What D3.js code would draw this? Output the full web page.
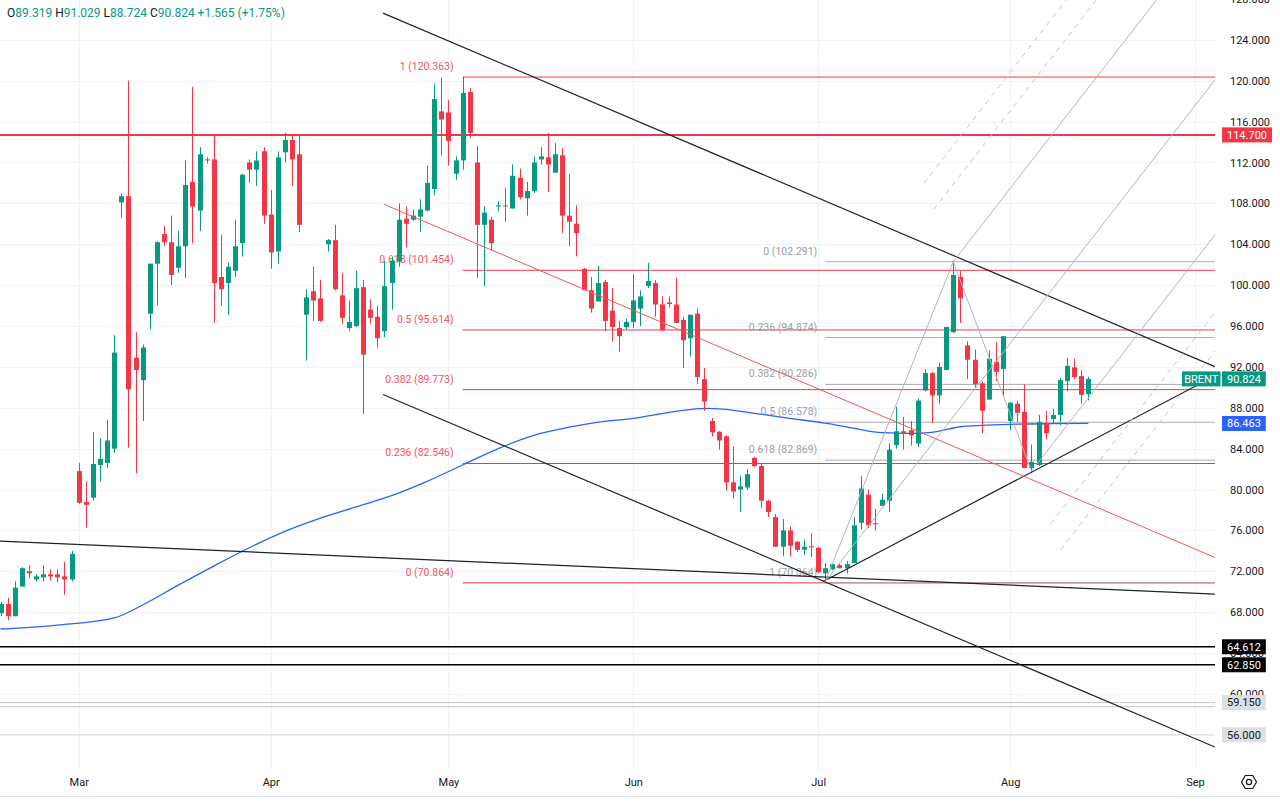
<!DOCTYPE html>
<html>
<head>
<meta charset="utf-8">
<script src="https://cdn.jsdelivr.net/npm/d3@7"></script>
<style>
  body { margin: 0; background: #fff; overflow: hidden; }
  svg text { font-family: Roboto, "Noto Sans", sans-serif; }
</style>
</head>
<body>
<svg id="chart" width="1280" height="803"></svg>
<script>
// daily candles (one entry per session)
const opens = [
  67.9, 68.8, 67.6, 70.5, 72.0, 71.2, 71.4, 71.7, 71.7, 71.5,
  71.2, 81.8, 78.8, 79.2, 82.4, 82.6, 84.0, 108.1, 108.7, 92.9,
  90.7, 97.2, 102.1, 105.0, 104.2, 101.7, 103.8, 110.1, 107.3, 112.3,
  112.3, 100.8, 100.2, 101.4, 104.1, 112.0, 111.3, 113.1, 106.9, 103.3,
  113.0, 114.2, 112.8, 97.1, 99.4, 98.7, 104.0, 104.4, 99.0, 95.8,
  96.0, 99.8, 97.6, 96.9, 95.5, 100.2, 102.3, 106.5, 106.4, 106.7,
  107.3, 109.4, 117.0, 116.9, 110.9, 112.2, 118.9, 112.0, 105.9, 106.4,
  107.7, 107.8, 107.5, 110.5, 108.5, 109.2, 112.3, 112.5, 111.0, 112.7,
  106.8, 106.0, 101.6, 99.5, 98.4, 100.3, 97.5, 95.8, 95.9, 96.4,
  97.7, 99.9, 100.2, 98.1, 98.3, 98.1, 96.6, 94.8, 97.2, 90.8,
  86.7, 85.65, 85.2, 80.7, 80.0, 80.2, 83.1, 82.3, 78.9, 77.3,
  74.4, 76.0, 74.9, 74.1, 74.45, 74.3, 71.8, 72.2, 72.6, 72.3,
  72.8, 76.75, 79.5, 76.7, 78.4, 78.9, 84.35, 85.7, 85.8, 84.5,
  89.7, 91.4, 89.2, 91.7, 95.4, 100.8, 94.1, 92.7, 90.4, 88.8,
  92.5, 91.8, 86.7, 88.4, 87.6, 82.1, 82.4, 86.5, 86.9, 87.3,
  90.6, 91.95, 91.1, 89.319
]
const highs = [
  69.0, 69.4, 71.0, 72.4, 72.6, 71.7, 72.6, 72.2, 72.2, 72.9,
  74.0, 82.6, 80.8, 85.6, 85.0, 86.8, 95.1, 109.0, 120.0, 95.4,
  94.2, 102.1, 104.3, 105.8, 106.8, 105.3, 112.2, 119.4, 113.5, 112.5,
  114.6, 104.9, 102.2, 106.4, 110.9, 112.3, 113.1, 113.5, 109.3, 113.1,
  114.9, 114.6, 114.6, 99.6, 101.8, 100.5, 104.5, 105.9, 101.2, 98.5,
  101.4, 100.5, 98.6, 98.0, 102.4, 102.8, 108.0, 107.7, 107.4, 108.4,
  111.7, 119.7, 120.3, 118.1, 112.6, 120.363, 119.3, 113.6, 107.7, 106.7,
  108.2, 109.5, 111.8, 111.4, 110.1, 112.6, 113.5, 114.9, 113.9, 113.4,
  110.9, 107.8, 101.7, 100.8, 101.9, 100.5, 99.7, 96.5, 96.7, 101.1,
  99.5, 102.2, 100.5, 98.9, 98.9, 100.7, 96.9, 97.1, 97.7, 91.9,
  87.0, 85.7, 85.3, 84.2, 81.3, 82.0, 83.2, 82.6, 79.0, 77.6,
  77.1, 76.4, 74.9, 75.1, 75.7, 74.4, 72.8, 72.8, 72.7, 73.0,
  77.3, 81.3, 80.0, 78.1, 79.6, 84.5, 88.1, 87.1, 86.7, 88.9,
  91.8, 91.5, 92.4, 95.9, 102.291, 101.4, 94.5, 93.7, 90.6, 93.6,
  94.4, 95.0, 88.5, 88.7, 90.3, 84.4, 87.3, 87.7, 87.9, 90.9,
  92.9, 92.8, 91.7, 91.029
]
const lows = [
  67.6, 67.2, 67.6, 70.5, 71.3, 71.0, 71.0, 71.1, 70.9, 69.7,
  71.0, 78.6, 76.3, 78.9, 80.8, 82.1, 83.6, 106.6, 84.1, 81.6,
  86.7, 95.7, 98.0, 103.8, 100.0, 101.2, 100.7, 104.1, 105.3, 111.9,
  96.3, 98.0, 97.1, 100.8, 102.8, 110.0, 109.7, 106.0, 101.6, 102.1,
  112.0, 109.7, 105.2, 92.6, 96.5, 96.4, 103.3, 99.5, 96.2, 95.5,
  95.9, 87.4, 96.2, 93.9, 94.9, 97.6, 101.8, 103.7, 106.3, 105.2,
  107.2, 108.8, 112.7, 111.7, 110.3, 111.3, 114.4, 100.7, 99.9, 103.4,
  107.2, 106.2, 107.5, 108.4, 106.8, 109.0, 111.8, 109.1, 111.0, 105.1,
  103.8, 102.8, 99.5, 97.3, 98.4, 95.5, 94.5, 93.5, 95.7, 95.8,
  96.0, 99.7, 96.9, 95.5, 97.8, 96.3, 91.9, 93.0, 90.3, 87.7,
  85.2, 83.9, 79.9, 79.1, 77.8, 79.95, 82.2, 78.2, 77.3, 74.4,
  73.5, 73.5, 73.9, 73.6, 73.4, 71.8, 70.864, 72.1, 72.3, 71.8,
  72.8, 76.1, 76.2, 76.0, 78.4, 77.8, 84.0, 83.9, 84.3, 84.2,
  89.6, 86.5, 88.4, 91.7, 95.3, 96.3, 90.8, 90.0, 85.5, 88.8,
  90.6, 89.1, 85.8, 86.6, 82.1, 81.6, 82.3, 84.9, 86.5, 86.3,
  89.6, 90.8, 88.4, 88.724
]
const closes = [
  68.8, 67.6, 70.4, 72.3, 71.8, 71.5, 71.7, 71.5, 71.4, 71.2,
  73.7, 78.7, 78.5, 82.5, 83.0, 84.8, 93.4, 108.7, 89.8, 91.7,
  93.9, 102.1, 104.2, 104.2, 101.0, 103.8, 109.8, 107.7, 112.8, 112.2,
  100.2, 99.6, 101.8, 103.8, 110.8, 111.3, 112.2, 106.8, 103.2, 112.5,
  114.2, 112.3, 105.9, 98.8, 98.5, 96.5, 104.4, 99.6, 96.8, 96.4,
  99.7, 93.2, 96.8, 94.8, 99.9, 102.4, 106.4, 106.0, 106.8, 107.4,
  110.0, 118.2, 116.2, 114.1, 112.2, 118.8, 114.9, 105.9, 107.1, 104.1,
  107.8, 107.7, 110.7, 108.6, 109.2, 112.0, 112.6, 111.8, 112.8, 106.8,
  106.2, 105.1, 99.5, 97.7, 100.2, 96.5, 95.9, 95.0, 96.4, 98.5,
  98.9, 100.4, 98.1, 95.6, 98.15, 96.3, 94.6, 97.1, 91.0, 88.6,
  85.6, 84.8, 80.7, 79.8, 80.3, 81.5, 82.3, 78.9, 77.8, 74.4,
  76.0, 74.5, 74.1, 74.4, 74.4, 71.9, 72.3, 72.7, 72.3, 72.7,
  76.5, 80.1, 76.5, 76.6, 79.0, 83.9, 85.7, 85.5, 85.3, 88.7,
  91.4, 89.2, 92.0, 95.9, 101.0, 98.7, 92.7, 90.3, 87.7, 92.8,
  91.5, 95.0, 88.5, 87.5, 82.1, 82.7, 86.6, 85.5, 87.3, 90.7,
  92.1, 91.0, 89.259, 90.824
]

// time axis: month label and the session index it sits on
const monthLabels = ['Mar', 'Apr', 'May', 'Jun', 'Jul', 'Aug', 'Sep']
const monthIdx = [11, 38, 63, 89, 115, 142, 168]
const priceTicks = [56, 60, 64, 68, 72, 76, 80, 84, 88, 92, 96, 100, 104, 108, 112, 116, 120, 124, 128]

// moving average (blue), read at a few sessions
const maIdx = [0, 8, 16, 20, 25, 30, 35, 40, 45, 50, 55, 60, 65, 70, 75, 80, 83, 89, 95, 99,
  102, 106, 111, 116, 120, 124, 128, 131, 135, 138, 142, 148, 153]
const maVal = [66.35, 66.74, 67.43, 68.7, 70.65, 72.51, 74.3, 75.9, 77.2, 78.3, 79.4, 80.8, 82.4, 84.0, 85.3, 86.1, 86.48, 86.97, 87.65, 87.94,
  87.85, 87.46, 86.97, 86.5, 86.0, 85.56, 85.5, 85.6, 86.14, 86.28, 86.38, 86.44, 86.463]

// fib retracement drawn from the May high to the July low (red)
const fib1Start = 65
const fib1Levels = [1, 0.618, 0.5, 0.382, 0.236, 0]
const fib1Prices = [120.363, 101.454, 95.614, 89.773, 82.546, 70.864]
// fib retracement from the July low to the July high (grey)
const fib2Start = 116
const fib2Levels = [0, 0.236, 0.382, 0.5, 0.618, 1]
const fib2Prices = [102.291, 94.874, 90.286, 86.578, 82.869, 70.864]

// horizontal levels
const resistance = 114.7
const blackLevels = [64.612, 62.85]
const greyLevels = [59.15, 58.75, 56.0]

// trend lines as [index1, price1, index2, price2]
const blackTrends = [
  [53.8, 126.62, 170.8, 92.02],
  [53.8, 89.3, 170.8, 54.8],
  [-0.1, 74.96, 170.8, 69.77],
  [115.7, 71.0, 170.8, 91.11]
]
const redTrend = [53.94, 107.91, 170.8, 73.35]

// pitchfork anchors: July low, July high, August low
const forkIdx = [116, 134, 145]
const forkPrice = [71.0, 102.291, 81.8]
const forkLevels = [1.5, 1.75]

// ---- chart ----
const plotW = 1215
const plotH = 768
const green = '#089981'
const red = '#f23645'

const x = d3.scaleLinear().domain([0, 1]).range([0.5, 7.61])
const y = d3.scaleLinear().domain([52.75, 127.9]).range([plotH, 0])

const svg = d3.select('#chart')
svg.append('rect').attr('width', 1280).attr('height', 803).attr('fill', '#fff')

svg.append('defs').append('clipPath').attr('id', 'plotclip')
  .append('rect').attr('width', plotW).attr('height', plotH)

const plot = svg.append('g').attr('clip-path', 'url(#plotclip)')

// grid
plot.append('g').selectAll('line').data(priceTicks).join('line')
  .attr('x1', 0).attr('x2', plotW)
  .attr('y1', d => Math.round(y(d)) + 0.5).attr('y2', d => Math.round(y(d)) + 0.5)
  .attr('stroke', '#f0f3fa')
plot.append('g').selectAll('line').data(monthIdx).join('line')
  .attr('x1', d => Math.round(x(d)) + 0.5).attr('x2', d => Math.round(x(d)) + 0.5)
  .attr('y1', 0).attr('y2', plotH)
  .attr('stroke', '#f0f3fa')

const hline = (g, price, x0, color, width) => g.append('line')
  .attr('x1', x0).attr('x2', plotW)
  .attr('y1', y(price)).attr('y2', y(price))
  .attr('stroke', color).attr('stroke-width', width)

// fib levels
const fibs = plot.append('g')
fib1Prices.forEach((p, i) => {
  hline(fibs, p, x(fib1Start), red, 1)
  fibs.append('text')
    .attr('x', x(fib1Start) - 9).attr('y', y(p) - 7)
    .attr('text-anchor', 'end').attr('font-size', 10.5).attr('fill', '#f7525f')
    .text(`${fib1Levels[i]} (${p.toFixed(3)})`)
})
fib2Prices.forEach((p, i) => {
  hline(fibs, p, x(fib2Start), '#a9acb4', 1)
  fibs.append('text')
    .attr('x', x(fib2Start) - 8).attr('y', y(p) - 7)
    .attr('text-anchor', 'end').attr('font-size', 10.5).attr('fill', '#9b9ea6')
    .text(`${fib2Levels[i]} (${p.toFixed(3)})`)
})

// horizontal levels
const levels = plot.append('g')
hline(levels, resistance, 0, red, 2)
blackLevels.forEach(p => hline(levels, p, 0, '#000', 1.4))
greyLevels.forEach((p, i) => hline(levels, p, 0, i == 2 ? '#d6d8dd' : '#c3c5cb', 1))

// moving average
plot.append('path')
  .datum(maIdx.map((d, i) => [d, maVal[i]]))
  .attr('fill', 'none').attr('stroke', '#2962ff').attr('stroke-width', 1.3)
  .attr('d', d3.line().x(d => x(d[0])).y(d => y(d[1])).curve(d3.curveMonotoneX))

// candles
const candles = opens.map((o, i) => ({ i, o, h: highs[i], l: lows[i], c: closes[i] }))
const cg = plot.append('g')
cg.selectAll('line').data(candles).join('line')
  .attr('x1', d => Math.round(x(d.i)) + 0.5).attr('x2', d => Math.round(x(d.i)) + 0.5)
  .attr('y1', d => y(d.h)).attr('y2', d => y(d.l))
  .attr('stroke', d => d.c >= d.o ? green : red)
cg.selectAll('rect').data(candles).join('rect')
  .attr('x', d => Math.round(x(d.i)) - 2).attr('width', 5)
  .attr('y', d => y(Math.max(d.o, d.c)))
  .attr('height', d => Math.max(1, Math.abs(y(d.o) - y(d.c))))
  .attr('fill', d => d.c >= d.o ? green : red)

// trend lines
const seg = (g, t, color, width, dash) => g.append('line')
  .attr('x1', x(t[0])).attr('y1', y(t[1]))
  .attr('x2', x(t[2])).attr('y2', y(t[3]))
  .attr('stroke', color).attr('stroke-width', width)
  .attr('stroke-dasharray', dash || null)
const trends = plot.append('g')
blackTrends.forEach(t => seg(trends, t, '#1e222d', 1.2))
seg(trends, redTrend, '#f7525f', 1)

// pitchfork, worked out in pixels so the tines stay parallel on screen
const fork = plot.append('g')
const pts = forkIdx.map((d, i) => [x(d), y(forkPrice[i])])
const mid = [(pts[1][0] + pts[2][0]) / 2, (pts[1][1] + pts[2][1]) / 2]
const dir = [mid[0] - pts[0][0], mid[1] - pts[0][1]]
const len = Math.hypot(dir[0], dir[1])
const unit = [dir[0] / len, dir[1] / len]
const ray = (s, color, dash) => fork.append('line')
  .attr('x1', s[0]).attr('y1', s[1])
  .attr('x2', s[0] + unit[0] * 2000).attr('y2', s[1] + unit[1] * 2000)
  .attr('stroke', color).attr('stroke-width', 1)
  .attr('stroke-dasharray', dash || null)
ray(pts[0], '#b2b5be')
ray(pts[1], '#b2b5be')
ray(pts[2], '#b2b5be')
forkLevels.forEach(k => {
  const off = [pts[1][0] - mid[0], pts[1][1] - mid[1]]
  ray([mid[0] + off[0] * k, mid[1] + off[1] * k], '#c3c5cb', '5,5')
  ray([mid[0] - off[0] * k, mid[1] - off[1] * k], '#c3c5cb', '5,5')
})
fork.append('line')
  .attr('x1', pts[1][0]).attr('y1', pts[1][1]).attr('x2', pts[2][0]).attr('y2', pts[2][1])
  .attr('stroke', '#b2b5be')
fork.append('line')
  .attr('x1', pts[0][0]).attr('y1', pts[0][1]).attr('x2', pts[1][0]).attr('y2', pts[1][1])
  .attr('stroke', '#b2b5be')

// price axis (the 56 tick sits exactly under its own tag, so it is left out)
svg.append('g')
  .attr('transform', `translate(${plotW + 7},0)`)
  .attr('font-family', 'Roboto, "Noto Sans", sans-serif')
  .call(d3.axisRight(y).tickValues(priceTicks.filter(d => d != greyLevels[2]))
    .tickFormat(d3.format('.3f')).tickSize(0).tickPadding(8))
  .call(g => g.select('.domain').remove())
  .call(g => g.selectAll('text').attr('font-size', 11).attr('fill', '#131722'))

// time axis
svg.append('g')
  .attr('transform', `translate(0,${plotH})`)
  .call(d3.axisBottom(x).tickValues(monthIdx).tickFormat((d, i) => monthLabels[i]).tickSize(0).tickPadding(10))
  .call(g => g.select('.domain').remove())
  .call(g => g.selectAll('text').attr('font-size', 11).attr('fill', '#131722')
    .attr('font-family', 'Roboto, "Noto Sans", sans-serif'))

// price tags on the axis
const last = opens.length - 1
const tags = [
  { v: resistance, bg: red, fg: '#fff' },
  { v: closes[last], bg: green, fg: '#fff' },
  { v: maVal[maVal.length - 1], bg: '#2962ff', fg: '#fff' },
  { v: blackLevels[0], bg: '#000', fg: '#fff' },
  { v: blackLevels[1], bg: '#000', fg: '#fff' },
  { v: greyLevels[0], bg: '#dedfe3', fg: '#131722' },
  { v: greyLevels[2], bg: '#dedfe3', fg: '#131722' }
]
const tagG = svg.append('g')
tags.forEach(t => {
  const g = tagG.append('g').attr('transform', `translate(${plotW + 7},${y(t.v)})`)
  const r = g.append('rect').attr('y', -7.5).attr('height', 15).attr('fill', t.bg)
  const tx = g.append('text').attr('x', 5).attr('dy', '0.35em')
    .attr('font-size', 11).attr('fill', t.fg).text(t.v.toFixed(3))
  r.attr('width', tx.node().getComputedTextLength() + 10)
})
const brent = svg.append('g').attr('transform', `translate(${plotW - 33},${y(closes[last])})`)
brent.append('rect').attr('y', -7.5).attr('width', 38.5).attr('height', 15).attr('fill', green)
brent.append('text').attr('x', 19.25).attr('dy', '0.35em').attr('text-anchor', 'middle')
  .attr('font-size', 11).attr('fill', '#fff').text('BRENT')

// OHLC header
const head = svg.append('text').attr('x', 7).attr('y', 17).attr('font-size', 12).style('white-space', 'pre')
const parts = [['O', opens[last]], [' H', highs[last]], [' L', lows[last]], [' C', closes[last]]]
parts.forEach(([k, v]) => {
  head.append('tspan').attr('fill', '#131722').text(k)
  head.append('tspan').attr('fill', green).text(v.toFixed(3))
})
const chg = closes[last] - closes[last - 1]
head.append('tspan').attr('fill', green)
  .text(` +${chg.toFixed(3)} (+${(chg / closes[last - 1] * 100).toFixed(2)}%)`)

// settings gear and bottom border
const hex = d3.range(6).map(k => [1249 + 7.5 * Math.cos(k * Math.PI / 3), 782 + 7.5 * Math.sin(k * Math.PI / 3)])
svg.append('path').attr('d', 'M' + hex.join('L') + 'Z')
  .attr('fill', 'none').attr('stroke', '#131722').attr('stroke-width', 1.2)
svg.append('circle').attr('cx', 1249).attr('cy', 782).attr('r', 2.6)
  .attr('fill', 'none').attr('stroke', '#131722').attr('stroke-width', 1.2)
svg.append('line').attr('x1', 0).attr('x2', 1280).attr('y1', 796.5).attr('y2', 796.5).attr('stroke', '#e0e3eb')
</script>
</body>
</html>
